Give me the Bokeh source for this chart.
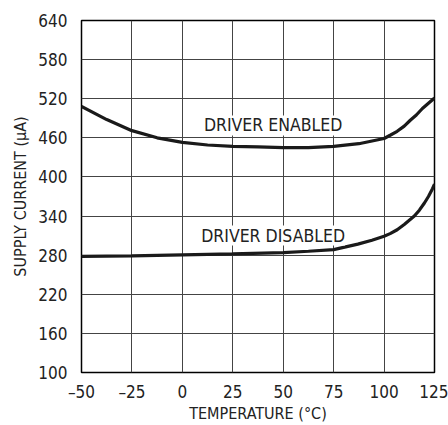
from bokeh.plotting import figure
from bokeh.models import FixedTicker, Range1d
from bokeh.core.properties import value
from bokeh.embed import file_html
from bokeh.resources import INLINE

# Data
temp_enabled = [-50, -37.5, -25, -12.5, 0, 12.5, 25, 37.5, 50, 62.5, 75, 87.5, 100, 103, 106.5,
                110, 113, 116, 119, 122, 125]
current_enabled = [508, 488, 471, 460, 453, 449, 447, 446, 445, 445, 447, 451, 459, 464, 470,
                   478, 487, 495, 505, 513, 521]

temp_disabled = [-50, -25, 0, 25, 50, 62.5, 75, 87, 94, 100, 103, 106.5, 110, 115, 117.5,
                 120, 122, 124, 125]
current_disabled = [278, 279, 280.5, 282, 284, 286, 288.5, 297, 303, 309, 313, 319, 327, 340, 349,
                    360, 370, 382, 389]

x_ticks = [-50, -25, 0, 25, 50, 75, 100, 125]
x_tick_labels = ["\u201350", "\u201325", "0", "25", "50", "75", "100", "125"]
y_ticks = [100, 160, 220, 280, 340, 400, 460, 520, 580, 640]

label_texts = ["DRIVER ENABLED", "DRIVER DISABLED"]
label_x = [45, 45]
label_y = [479, 310]

FONT = "DejaVu Sans Condensed"

p = figure(width=448, height=425, output_backend="svg", toolbar_location=None,
           x_range=Range1d(-50, 125), y_range=Range1d(100, 640),
           min_border_left=81, min_border_right=14, min_border_top=20, min_border_bottom=53)

p.outline_line_color = "black"
p.outline_line_width = 1.5
p.background_fill_color = "white"
p.border_fill_color = "white"

p.xaxis.ticker = FixedTicker(ticks=x_ticks)
p.xaxis.major_label_overrides = {t: l for t, l in zip(x_ticks, x_tick_labels)}
p.yaxis.ticker = FixedTicker(ticks=y_ticks)

for ax in (p.xaxis[0], p.yaxis[0]):
    ax.axis_line_color = None
    ax.major_tick_line_color = None
    ax.minor_tick_line_color = None
    ax.major_tick_out = 0
    ax.major_tick_in = 0
    ax.major_label_text_font = FONT
    ax.major_label_text_font_size = "17px"
    ax.major_label_text_color = "#222222"
    ax.axis_label_text_font = FONT
    ax.axis_label_text_font_size = "16px"
    ax.axis_label_text_font_style = "normal"
    ax.axis_label_text_color = "#222222"

p.xaxis.axis_label = "TEMPERATURE (\u00b0C)"
p.yaxis.axis_label = "SUPPLY CURRENT (\u00b5A)"
p.xaxis.major_label_standoff = 9
p.xaxis.axis_label_standoff = -1
p.yaxis.major_label_standoff = 14
p.yaxis.axis_label_standoff = 5

p.xgrid.ticker = FixedTicker(ticks=x_ticks)
p.ygrid.ticker = FixedTicker(ticks=y_ticks)
p.grid.grid_line_color = "#444444"
p.grid.grid_line_width = 1
p.grid.grid_line_alpha = 1

p.line(temp_enabled, current_enabled, line_color="#1a1a1a", line_width=3.2)
p.line(temp_disabled, current_disabled, line_color="#1a1a1a", line_width=3.2)

p.text(x=label_x, y=label_y, text=label_texts, text_font=value(FONT), text_font_size="17.5px",
       text_align="center", text_baseline="middle", text_color="#222222",
       background_fill_color="white")

open("out.html", "w").write(file_html(p, INLINE))
